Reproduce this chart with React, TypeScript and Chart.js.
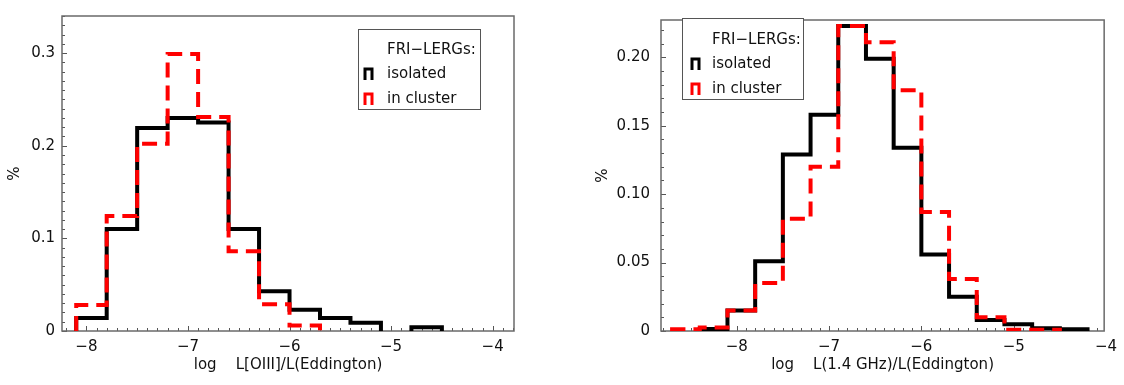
import React, { useEffect, useRef } from "react";
import { Chart, registerables } from "chart.js";

Chart.register(...registerables);

// ---------- data ----------
const oiiiBinEdges = [-8.1, -7.8, -7.5, -7.2, -6.9, -6.6, -6.3, -6.0, -5.7, -5.4, -5.1, -4.8, -4.5];
const oiiiIsolated: (number | null)[] = [0.014, 0.110, 0.219, 0.230, 0.225, 0.110, 0.043, 0.023, 0.014, 0.009, 0, 0.004];
const oiiiCluster: (number | null)[] = [0.028, 0.124, 0.202, 0.299, 0.231, 0.086, 0.029, 0.006, null, null, null, null];

const radioBinEdges = [-8.7, -8.4, -8.1, -7.8, -7.5, -7.2, -6.9, -6.6, -6.3, -6.0, -5.7, -5.4, -5.1, -4.8, -4.5, -4.2];
const radioIsolated: (number | null)[] = [null, 0.0015, 0.015, 0.051, 0.129, 0.158, 0.223, 0.199, 0.134, 0.056, 0.025, 0.008, 0.005, 0.002, 0.0012];
const radioCluster: (number | null)[] = [0.0012, 0.0025, 0.015, 0.035, 0.082, 0.120, 0.223, 0.211, 0.176, 0.087, 0.038, 0.010, 0.001, 0.001, null];

const xTickValues = [-8, -7, -6, -5, -4];
const oiiiYTickValues = [0, 0.1, 0.2, 0.3];
const oiiiYTickLabels = ["0", "0.1", "0.2", "0.3"];
const radioYTickValues = [0, 0.05, 0.1, 0.15, 0.2];
const radioYTickLabels = ["0", "0.05", "0.10", "0.15", "0.20"];

const legendTitle = "FRI\u2212LERGs:";
const seriesLabels = ["isolated", "in cluster"];
const oiiiXTitle = "log    L[OIII]/L(Eddington)";
const radioXTitle = "log    L(1.4 GHz)/L(Eddington)";
const yTitle = "%";

// ---------- styling ----------
const FONT = "'DejaVu Sans', 'Liberation Sans', sans-serif";
const FS = 15;
const TEXT = "#111";
const RED = "#ff0000";
const BLACK = "#000000";

function stepPoints(edges: number[], values: (number | null)[]) {
  const pts: { x: number; y: number | null }[] = [];
  const first = values.findIndex((v) => v !== null);
  let last = values.length - 1;
  while (last >= 0 && values[last] === null) last--;
  pts.push({ x: edges[first], y: 0 });
  for (let i = first; i <= last; i++) {
    const v = values[i] ?? 0;
    if (v === 0) {
      // empty bin: drop to the axis and leave a gap
      pts.push({ x: edges[i], y: 0 });
      pts.push({ x: (edges[i] + edges[i + 1]) / 2, y: null });
      pts.push({ x: edges[i + 1], y: 0 });
      continue;
    }
    pts.push({ x: edges[i], y: v });
    pts.push({ x: edges[i + 1], y: v });
  }
  pts.push({ x: edges[last + 1], y: 0 });
  return pts;
}

const framePlugin = {
  id: "frame",
  beforeDatasetsDraw(chart: any, _a: any, opts: any) {
    const { ctx, chartArea: a, scales } = chart;
    const xs = scales.x;
    const ys = scales.y;
    ctx.save();
    ctx.strokeStyle = "#555";
    ctx.lineWidth = 1;
    ctx.beginPath();
    const xStart = Math.ceil(xs.min * 10);
    const xEnd = Math.floor(xs.max * 10);
    for (let k = xStart; k <= xEnd; k++) {
      const px = Math.round(xs.getPixelForValue(k / 10)) + 0.5;
      const len = k % 10 === 0 ? 5 : 3;
      ctx.moveTo(px, a.bottom);
      ctx.lineTo(px, a.bottom - len);
    }
    const yEnd = Math.floor(ys.max * 100 + 1e-6);
    for (let k = 0; k <= yEnd; k++) {
      const py = Math.round(ys.getPixelForValue(k / 100)) + 0.5;
      const len = k % opts.yMajorEvery === 0 ? 5 : 3;
      ctx.moveTo(a.left, py);
      ctx.lineTo(a.left + len, py);
    }
    ctx.stroke();
    ctx.strokeStyle = "#6a6a6a";
    ctx.lineWidth = 1.5;
    ctx.strokeRect(a.left, a.top, a.right - a.left, a.bottom - a.top);
    ctx.restore();
  },
  afterDatasetsDraw(chart: any, _a: any, opts: any) {
    const L = opts.legend;
    if (!L) return;
    const { ctx } = chart;
    ctx.save();
    ctx.fillStyle = "#fff";
    ctx.fillRect(L.x, L.y, L.w, L.h);
    ctx.strokeStyle = "#555";
    ctx.lineWidth = 1;
    ctx.strokeRect(L.x + 0.5, L.y + 0.5, L.w, L.h);
    ctx.font = `${FS}px ${FONT}`;
    ctx.fillStyle = TEXT;
    ctx.textBaseline = "middle";
    ctx.textAlign = "left";
    ctx.fillText(legendTitle, L.textX, L.rows[0]);
    const colors = [BLACK, RED];
    for (let i = 0; i < 2; i++) {
      const cy = L.rows[i + 1];
      ctx.fillStyle = TEXT;
      ctx.fillText(seriesLabels[i], L.textX, cy);
      ctx.strokeStyle = colors[i];
      ctx.lineWidth = 3;
      ctx.lineJoin = "miter";
      ctx.beginPath();
      ctx.moveTo(L.symX, cy + 6);
      ctx.lineTo(L.symX, cy - 5);
      ctx.lineTo(L.symX + 7, cy - 5);
      ctx.lineTo(L.symX + 7, cy + 6);
      ctx.stroke();
    }
    ctx.restore();
  },
};

interface PanelCfg {
  left: number;
  width: number;
  edges: number[];
  isolated: (number | null)[];
  cluster: (number | null)[];
  xMin: number;
  xMax: number;
  yMax: number;
  yTicks: number[];
  yLabels: string[];
  yMajorEvery: number;
  xTitle: string;
  yAxisWidth: number;
  padRight: number;
  yLabelPad: number;
  yTitlePad: number;
  legend: any;
}

function makeConfig(c: PanelCfg): any {
  const tickFont = { family: FONT, size: FS };
  return {
    type: "line",
    data: {
      datasets: [
        {
          label: seriesLabels[0],
          data: stepPoints(c.edges, c.isolated),
          borderColor: BLACK,
          borderWidth: 4,
          pointRadius: 0,
          tension: 0,
          fill: false,
          spanGaps: false,
          borderJoinStyle: "miter",
          order: 2,
        },
        {
          label: seriesLabels[1],
          data: stepPoints(c.edges, c.cluster),
          borderColor: RED,
          borderWidth: 4,
          borderDash: [15, 8],
          pointRadius: 0,
          tension: 0,
          fill: false,
          spanGaps: false,
          borderJoinStyle: "miter",
          order: 1,
        },
      ],
    },
    options: {
      animation: false,
      responsive: false,
      devicePixelRatio: 1,
      layout: { padding: { top: 5, right: c.padRight, left: 0, bottom: 0 } },
      plugins: {
        legend: { display: false },
        tooltip: { enabled: false },
        frame: { legend: c.legend, yMajorEvery: c.yMajorEvery },
      },
      scales: {
        x: {
          type: "linear",
          min: c.xMin,
          max: c.xMax,
          grid: { display: false, drawTicks: false },
          border: { display: false },
          afterBuildTicks: (s: any) => {
            s.ticks = xTickValues.map((v) => ({ value: v }));
          },
          afterFit: (s: any) => {
            s.height = 54;
          },
          ticks: {
            font: tickFont,
            color: TEXT,
            padding: 7,
            maxRotation: 0,
            autoSkip: false,
            callback: (v: number) => (v < 0 ? "\u2212" + Math.abs(v) : String(v)),
          },
          title: {
            display: true,
            text: c.xTitle,
            font: tickFont,
            color: TEXT,
            padding: { top: 0, bottom: 11 },
          },
        },
        y: {
          type: "linear",
          min: 0,
          max: c.yMax,
          grid: { display: false, drawTicks: false },
          border: { display: false },
          afterBuildTicks: (s: any) => {
            s.ticks = c.yTicks.map((v) => ({ value: v }));
          },
          afterFit: (s: any) => {
            s.width = c.yAxisWidth;
          },
          ticks: {
            font: tickFont,
            color: TEXT,
            padding: c.yLabelPad,
            autoSkip: false,
            callback: (_v: number, i: number) => c.yLabels[i],
          },
          title: {
            display: true,
            text: yTitle,
            font: tickFont,
            color: TEXT,
            padding: { top: c.yTitlePad, bottom: 0 },
          },
        },
      },
    },
    plugins: [framePlugin],
  };
}

const panels: PanelCfg[] = [
  {
    left: 0,
    width: 540,
    edges: oiiiBinEdges,
    isolated: oiiiIsolated,
    cluster: oiiiCluster,
    xMin: -8.24,
    xMax: -3.79,
    yMax: 0.34,
    yTicks: oiiiYTickValues,
    yLabels: oiiiYTickLabels,
    yMajorEvery: 10,
    xTitle: oiiiXTitle,
    yAxisWidth: 62,
    padRight: 26,
    yLabelPad: 7,
    yTitlePad: 6,
    legend: { x: 358, y: 29, w: 122, h: 80, textX: 387, symX: 365, rows: [50, 74, 99] },
  },
  {
    left: 560,
    width: 564,
    edges: radioBinEdges,
    isolated: radioIsolated,
    cluster: radioCluster,
    xMin: -8.82,
    xMax: -4.02,
    yMax: 0.2273,
    yTicks: radioYTickValues,
    yLabels: radioYTickLabels,
    yMajorEvery: 5,
    xTitle: radioXTitle,
    yAxisWidth: 101,
    padRight: 15,
    yLabelPad: 11,
    yTitlePad: 34,
    legend: { x: 122, y: 18, w: 121, h: 81, textX: 152, symX: 132, rows: [40, 64, 89] },
  },
];

function Panel({ cfg }: { cfg: PanelCfg }) {
  const ref = useRef<HTMLCanvasElement | null>(null);
  useEffect(() => {
    if (!ref.current) return;
    const chart = new Chart(ref.current, makeConfig(cfg));
    return () => chart.destroy();
  }, [cfg]);
  return (
    <canvas
      ref={ref}
      width={cfg.width}
      height={385}
      style={{ position: "absolute", left: cfg.left, top: 0, width: cfg.width, height: 385, display: "block" }}
    />
  );
}

export default function App() {
  return (
    <div style={{ position: "absolute", left: 0, top: 0, width: 1124, height: 385, background: "#fff" }}>
      {panels.map((p, i) => (
        <Panel key={i} cfg={p} />
      ))}
    </div>
  );
}
